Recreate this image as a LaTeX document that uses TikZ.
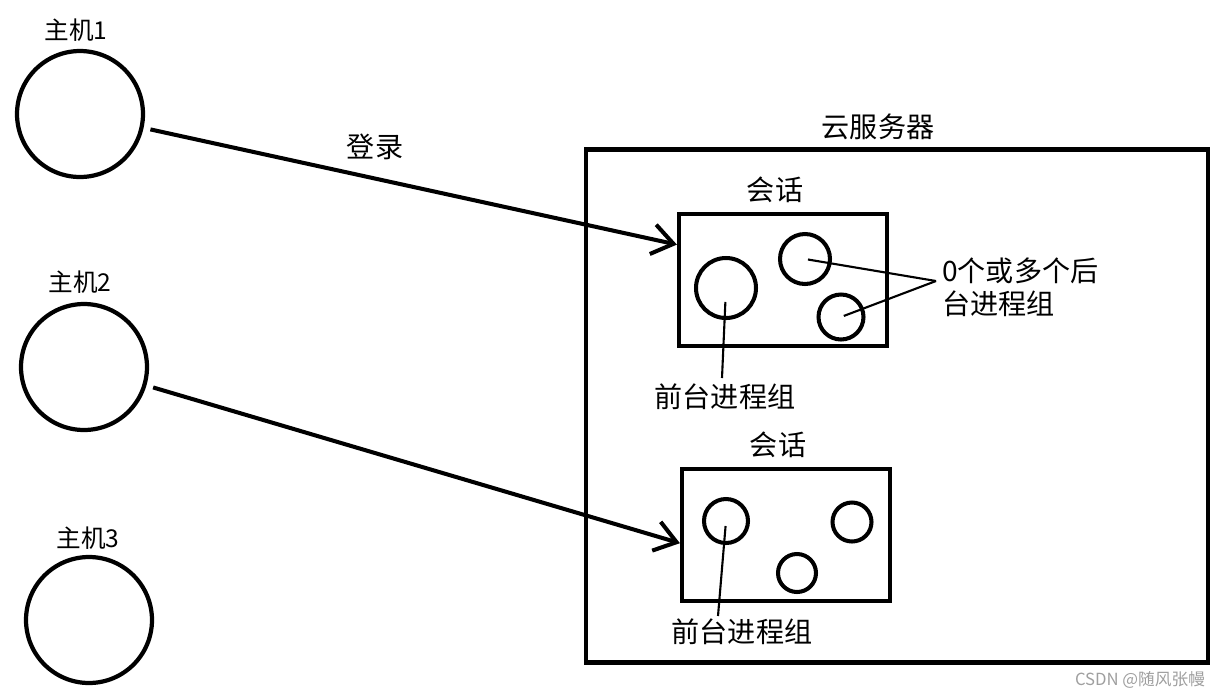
\documentclass[tikz,border=0pt]{standalone}
\usepackage{fontspec}
\newfontfamily\cjk{Noto Sans CJK SC}
\usetikzlibrary{arrows.meta, positioning, calc}

\begin{document}
\begin{tikzpicture}[
    x=0.02cm, y=-0.02cm,
    font=\cjk\fontsize{16}{19}\selectfont,
    % Define styles for the different node types
    host/.style={circle, draw, line width=2.4pt, minimum size=2.52cm, inner sep=0pt},
    hostlabel/.style={font=\cjk\fontsize{14}{16}\selectfont},
    serverbox/.style={rectangle, draw, line width=2.4pt, minimum width=12.44cm, minimum height=10.26cm, inner sep=0pt},
    sessionbox/.style={rectangle, draw, line width=2.4pt, minimum width=4.16cm, minimum height=2.64cm, inner sep=0pt},
    proc/.style={circle, draw, line width=2.3pt, inner sep=0pt},
    login/.style={-{Straight Barb[length=0.42cm, width=0.6cm, line width=2.3pt]}, line width=2.3pt, shorten <=0.14cm},
    pointer/.style={line width=1.2pt},
]
\useasboundingbox (0,0) rectangle (1225,698);

% -------------------------
% Hosts
% -------------------------
\node (h1) [host] at (80,114) {};
\node (h1label) [hostlabel] at (76,30) {主机1};
\node (h2) [host] at (84,367) {};
\node (h2label) [hostlabel] at (80,282) {主机2};
\node (h3) [host] at (89,620) {};
\node (h3label) [hostlabel] at (88,538) {主机3};

% -------------------------
% Cloud server and sessions
% -------------------------
\node (server) [serverbox] at (897,406) {};
\node (serverlabel) at (878,127) {云服务器};

\node (s1) [sessionbox] at (783,280) {};
\node (s1label) at (775,190) {会话};
\node (p1) [proc, minimum size=1.2cm] at (726,288) {};
\node (p2) [proc, minimum size=1.0cm] at (805,259) {};
\node (p3) [proc, minimum size=0.9cm] at (841,317) {};

\node (s2) [sessionbox] at (786,535) {};
\node (s2label) at (778,445) {会话};
\node (q1) [proc, minimum size=0.88cm] at (726,521) {};
\node (q2) [proc, minimum size=0.78cm] at (852,522) {};
\node (q3) [proc, minimum size=0.76cm] at (797,573) {};

% -------------------------
% Labels for process groups
% -------------------------
\node (front1) at (725,397) {前台进程组};
\node (front2) at (742,632) {前台进程组};
\node (back) [anchor=west, align=left] at (936,287) {0个或多个后\\台进程组};
\coordinate (fork) at (936,281);
\coordinate (front1end) at (722,378);
\coordinate (front2end) at (718,616);

\draw[pointer, shorten <=0.28cm] (p1.center) -- (front1end);
\draw[pointer, shorten <=0.1cm] (q1.center) -- (front2end);
\draw[pointer, shorten <=0.06cm] (p2.center) -- (fork);
\draw[pointer, shorten <=0.06cm] (p3.center) -- (fork);

% -------------------------
% Login arrows
% -------------------------
\coordinate (tip1) at ($(s1.north west)!0.24!(s1.south west)$);
\coordinate (tip2) at ($(s2.north west)!0.56!(s2.south west)$);
\draw[login] (h1) -- (tip1);
\node (loginlabel) at (375,147) {登录};
\draw[login] (h2) -- (tip2);

% Watermark
\node (mark) [text=gray!75, font=\cjk\fontsize{9.5}{11}\selectfont] at (1140,680) {CSDN @随风张幔};

\end{tikzpicture}
\end{document}
